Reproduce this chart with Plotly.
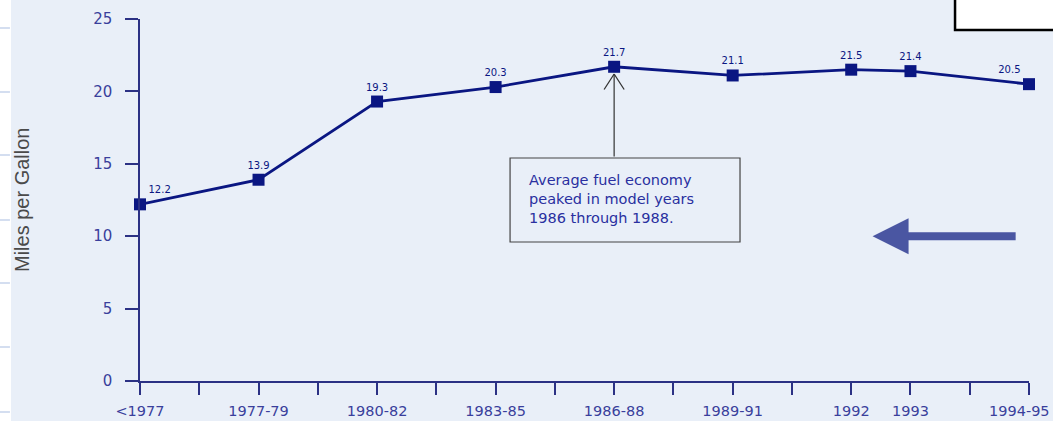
import plotly.graph_objects as go

# Model-year groups and average fuel economy (mpg)
periods = ["<1977", "1977-79", "1980-82", "1983-85", "1986-88", "1989-91", "1992", "1993", "1994-95"]
positions = [0, 1, 2, 3, 4, 5, 6, 6.5, 7.5]
mpg = [12.2, 13.9, 19.3, 20.3, 21.7, 21.1, 21.5, 21.4, 20.5]
y_ticks = [0, 5, 10, 15, 20, 25]

NAVY = "#0a1682"
AXIS = "#2b3184"
TICKTXT = "#3a3f9c"
BG = "#e9eff8"
POINTER = "#333333"
TICKFONT = dict(family="DejaVu Sans", size=14.5, color=TICKTXT)

label_pos = ["top right"] + ["top center"] * 7 + ["top left"]

fig = go.Figure()
fig.add_trace(go.Scatter(
    x=positions, y=mpg,
    mode="lines+markers+text",
    line=dict(color=NAVY, width=2.8),
    marker=dict(symbol="square", size=12, color=NAVY),
    text=[f"{v:.1f}" for v in mpg],
    textposition=label_pos,
    textfont=dict(family="DejaVu Sans", size=10, color=NAVY),
    cliponaxis=False,
    hoverinfo="skip",
))

# half-step ticks; labels at the period positions (the last one, which would
# run past the figure edge, is drawn as an annotation so it is not dropped)
tickvals = [i * 0.5 for i in range(16)]
ticktext = []
for t in tickvals:
    if t in positions[:-1]:
        ticktext.append(periods[positions.index(t)])
    else:
        ticktext.append("")

fig.update_xaxes(
    range=[0, 7.5], tickvals=tickvals, ticktext=ticktext,
    ticks="outside", ticklen=12, tickwidth=1.5, tickcolor=AXIS,
    showline=True, linecolor=AXIS, linewidth=1.5,
    showgrid=False, zeroline=False, automargin=False,
    ticklabelstandoff=4,
    tickfont=TICKFONT,
)
fig.update_yaxes(
    range=[0, 25], tickvals=y_ticks,
    ticks="outside", ticklen=13, tickwidth=1.5, tickcolor=AXIS,
    showline=True, linecolor=AXIS, linewidth=1.5,
    showgrid=False, zeroline=False, automargin=False,
    ticklabelstandoff=10,
    tickfont=dict(family="DejaVu Sans", size=15, color=TICKTXT),
)

peak_x = positions[mpg.index(max(mpg))]
tip_y = max(mpg) - 0.5

annotations = [
    # last period label
    dict(text=periods[-1], x=positions[-1], xref="x", y=0, yref="paper",
         yanchor="top", xanchor="center", yshift=-20, xshift=-10,
         showarrow=False, font=TICKFONT),
    # y-axis title
    dict(text="Miles per Gallon", xref="paper", yref="paper",
         x=-0.1327, y=0.5, xanchor="center", yanchor="middle",
         textangle=-90, showarrow=False,
         font=dict(family="Liberation Sans, Arial", size=20, color="#4a4a4a")),
    # pointer shaft from the note box up to the peak
    dict(x=peak_x, y=tip_y, xref="x", yref="y", ax=peak_x, ay=15.4,
         axref="x", ayref="y", showarrow=True, arrowhead=0, arrowwidth=1.2,
         arrowcolor=POINTER, text=""),
    # open arrowhead: two short strokes meeting at the tip
    dict(x=peak_x, y=tip_y, xref="x", yref="y", ax=-11, ay=17,
         showarrow=True, arrowhead=0, arrowwidth=1.3, standoff=0,
         arrowcolor=POINTER, text=""),
    dict(x=peak_x, y=tip_y, xref="x", yref="y", ax=11, ay=17,
         showarrow=True, arrowhead=0, arrowwidth=1.3, standoff=0,
         arrowcolor=POINTER, text=""),
    # note text
    dict(text="Average fuel economy<br>peaked in model years<br>1986 through 1988.",
         x=3.265, y=12.55, xref="x", yref="y", xanchor="left", yanchor="middle",
         showarrow=False, align="left",
         font=dict(family="DejaVu Sans", size=14.5, color="#2a30a0")),
    # large left-pointing arrow
    dict(x=6.18, y=10.0, xref="x", yref="y", ax=7.40, ay=10.0, axref="x", ayref="y",
         showarrow=True, arrowhead=2, arrowsize=0.9, arrowwidth=8,
         arrowcolor="#4a56a2", text=""),
]

shapes = [
    # white strip at the left edge
    dict(type="rect", xref="paper", yref="paper", x0=-0.1575, x1=-0.1451,
         y0=-0.2, y1=1.1, fillcolor="white", line=dict(width=0), layer="below"),
    # box at the top right corner
    dict(type="rect", xref="paper", yref="paper", x0=0.9168, x1=1.05,
         y0=0.9696, y1=1.2, fillcolor="white", line=dict(color="black", width=2.5)),
    # note box
    dict(type="rect", xref="x", yref="y", x0=3.122, x1=5.062, y0=9.6, y1=15.4,
         fillcolor=BG, line=dict(color="#444444", width=1.2)),
]
# small dashes in the left strip
for py in [28, 92, 155, 220, 283, 347, 412]:
    yp = (381 - py) / 362
    shapes.append(dict(type="line", xref="paper", yref="paper",
                       x0=-0.1575, x1=-0.1463, y0=yp, y1=yp,
                       line=dict(color="#b8c8e6", width=1.2)))

fig.update_layout(
    width=1053, height=421,
    margin=dict(l=140, r=24, t=19, b=40),
    paper_bgcolor=BG, plot_bgcolor=BG,
    showlegend=False,
    annotations=annotations,
    shapes=shapes,
)

fig.write_html("out.html")
